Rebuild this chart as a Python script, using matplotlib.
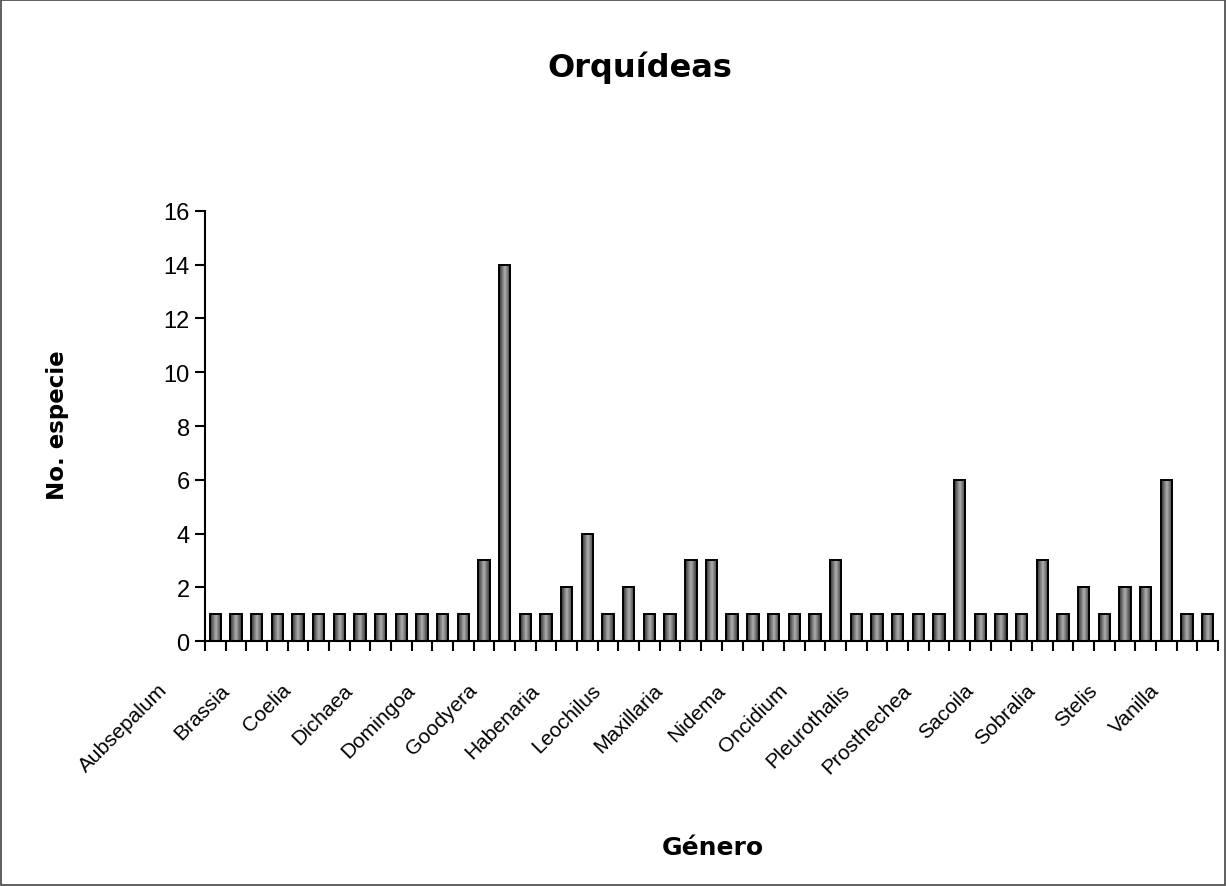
import numpy as np
import matplotlib.pyplot as plt
from matplotlib.colors import LinearSegmentedColormap
from matplotlib.patches import Rectangle
from matplotlib.transforms import ScaledTranslation

# genera shown on the axis (every third category is labelled)
generos = ["Aubsepalum", "Brassia", "Coelia", "Dichaea", "Domingoa", "Goodyera",
           "Habenaria", "Leochilus", "Maxillaria", "Nidema", "Oncidium",
           "Pleurothalis", "Prosthechea", "Sacoila", "Sobralia", "Stelis", "Vanilla"]

# number of species per genus, left to right
especies = [1, 1, 1, 1, 1, 1, 1, 1, 1, 1, 1, 1, 1,
            3, 14, 1, 1, 2, 4, 1, 2, 1, 1, 3, 3,
            1, 1, 1, 1, 1, 3, 1, 1, 1, 1, 1, 6,
            1, 1, 1, 3, 1, 2, 1, 2, 2, 6, 1, 1]

yticks = [0, 2, 4, 6, 8, 10, 12, 14, 16]

plt.rcParams['font.family'] = ['Liberation Sans', 'DejaVu Sans']

fig = plt.figure(figsize=(12.26, 8.87), dpi=100)
ax = fig.add_axes([0.1672, 0.2762, 0.8263, 0.4848])

x = np.arange(len(especies))
bars = ax.bar(x, especies, width=0.55, color='none', edgecolor='black',
              linewidth=1.4, zorder=3)

# grey gradient fill, darker at the sides
cmap = LinearSegmentedColormap.from_list('gris', ['#2e2e2e', '#b0b0b0', '#2e2e2e'])
grad = np.linspace(0, 1, 64).reshape(1, -1)
for b in bars:
    x0, y0 = b.get_x(), b.get_y()
    w, h = b.get_width(), b.get_height()
    im = ax.imshow(grad, extent=[x0, x0 + w, y0, y0 + h], cmap=cmap,
                   aspect='auto', zorder=2, interpolation='bilinear')
    im.set_clip_path(b)

ax.set_xlim(-0.5, len(especies) - 0.5)
ax.set_ylim(0, 16)
ax.set_yticks(yticks)

ax.set_xticks(x[::3])
ax.set_xticklabels(generos, rotation=45, ha='right', rotation_mode='anchor',
                   fontsize=15)
ax.set_xticks(np.arange(-0.5, len(especies)), minor=True)
ax.tick_params(axis='x', which='major', length=0, pad=28)
ax.tick_params(axis='x', which='minor', length=7, width=1.5, direction='out')
ax.tick_params(axis='y', length=7, width=1.5, labelsize=17, pad=4)

offset = ScaledTranslation(-0.58, 0, fig.dpi_scale_trans)
for lab in ax.get_xticklabels():
    lab.set_transform(lab.get_transform() + offset)

for s in ['top', 'right']:
    ax.spines[s].set_visible(False)
for s in ['left', 'bottom']:
    ax.spines[s].set_linewidth(1.5)

fig.text(0.522, 0.924, "Orquídeas", ha='center', va='center',
         fontsize=23, fontweight='bold', family='DejaVu Sans')
fig.text(0.047, 0.521, "No. especie", ha='center', va='center', rotation=90,
         fontsize=16.5, fontweight='bold', family='DejaVu Sans')
fig.text(0.5816, 0.044, "Género", ha='center', va='center',
         fontsize=18, fontweight='bold', family='DejaVu Sans')

fig.patches.append(Rectangle((0.001, 0.001), 0.998, 0.998, transform=fig.transFigure,
                             fill=False, edgecolor='#444444', linewidth=1.2))

fig.savefig("out.png", dpi=100)
